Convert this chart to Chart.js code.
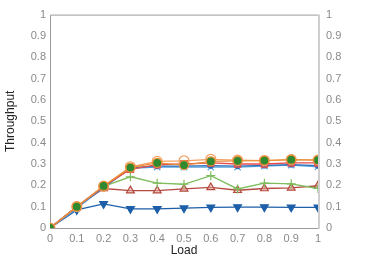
<!DOCTYPE html>
<html>
<head>
<meta charset="utf-8">
<script src="https://cdn.jsdelivr.net/npm/chart.js@4"></script>
<style>
  html, body { margin: 0; padding: 0; background: #fff; }
  #wrap { width: 374px; height: 262px; }
</style>
</head>
<body>
<div id="wrap"><canvas id="plot" width="374" height="262"></canvas></div>
<script>
const loads = [0, 0.1, 0.2, 0.3, 0.4, 0.5, 0.6, 0.7, 0.8, 0.9, 1];

const blueTri   = [0, 0.085, 0.113, 0.090, 0.090, 0.093, 0.097, 0.098, 0.098, 0.097, 0.097];
const lightStar = [0, 0.092, 0.190, 0.280, 0.285, 0.285, 0.285, 0.285, 0.290, 0.295, 0.287];
const greenPlus = [0, 0.100, 0.195, 0.240, 0.210, 0.205, 0.245, 0.183, 0.210, 0.207, 0.185];
const redTri    = [0, 0.100, 0.185, 0.175, 0.175, 0.183, 0.190, 0.177, 0.185, 0.188, 0.198];
const orangeCirc= [0, 0.100, 0.195, 0.287, 0.312, 0.315, 0.322, 0.318, 0.316, 0.320, 0.318];
const greenDot  = [0, 0.100, 0.197, 0.283, 0.305, 0.295, 0.312, 0.315, 0.316, 0.320, 0.318];
const redSquare = [0, 0.100, 0.195, 0.275, 0.297, 0.300, 0.305, 0.300, 0.300, 0.305, 0.305];
const blueDot   = [0, 0.100, 0.190, 0.283, 0.290, 0.290, 0.292, 0.290, 0.293, 0.297, 0.292];

const yTicks = [0, 0.1, 0.2, 0.3, 0.4, 0.5, 0.6, 0.7, 0.8, 0.9, 1];

const pts = arr => arr.map((v, i) => ({ x: loads[i], y: v }));

const series = (label, data, color, style, fill, radius) => ({
  label,
  data: pts(data),
  borderColor: color,
  backgroundColor: fill,
  pointBorderColor: color,
  pointBackgroundColor: fill,
  pointStyle: style,
  pointRadius: radius,
  pointBorderWidth: 1.2,
  borderWidth: 1.3,
  tension: 0
});

// frame around the plot area (top border + left line)
const frame = {
  id: 'frame',
  beforeDatasetsDraw(chart) {
    const { ctx, chartArea: a } = chart;
    ctx.save();
    ctx.strokeStyle = '#9a9a9a';
    ctx.lineWidth = 1;
    ctx.beginPath();
    ctx.moveTo(a.left + 0.5, a.bottom);
    ctx.lineTo(a.left + 0.5, a.top + 0.5);
    ctx.lineTo(a.right, a.top + 0.5);
    ctx.moveTo(a.left, a.bottom + 0.5);
    ctx.lineTo(a.right, a.bottom + 0.5);
    ctx.stroke();
    ctx.strokeStyle = '#cfcfcf';
    ctx.lineWidth = 2;
    ctx.beginPath();
    ctx.moveTo(a.right + 1, a.top);
    ctx.lineTo(a.right + 1, a.bottom + 1);
    ctx.stroke();
    ctx.restore();
  }
};

const tickFont = { family: 'Liberation Sans', size: 11 };
const fixedTicks = axis => { axis.ticks = yTicks.map(v => ({ value: v })); };
const plain = v => String(Math.round(v * 10) / 10);

new Chart(document.getElementById('plot'), {
  type: 'line',
  data: {
    datasets: [
      series('green dot', greenDot, '#e8903a', 'circle', '#2f8a2f', 4.5),
      series('red square', redSquare, '#e84a4a', 'rect', 'rgba(240,150,140,0.5)', 4.5),
      series('orange circle', orangeCirc, '#f5a060', 'circle', 'rgba(255,255,255,0)', 5),
      series('blue dot', blueDot, '#2a6fb8', 'circle', '#1d5fa8', 2.5),
      series('light star', lightStar, '#5aa5e0', 'crossRot', '#5aa5e0', 4.5),
      series('green plus', greenPlus, '#7dbd5c', 'cross', '#7dbd5c', 4.5),
      series('red triangle', redTri, '#b5493f', 'triangle', 'rgba(230,170,160,0.5)', 4.5),
      series('blue triangle', blueTri, '#1d5fa8', 'triangle', '#1d5fa8', 4.5)
    ].map(d => d.label === 'blue triangle' ? { ...d, pointRotation: 180 } : d)
  },
  options: {
    responsive: false,
    animation: false,
    layout: { padding: { top: 12, right: 0, bottom: 0, left: 0 } },
    plugins: { legend: { display: false }, tooltip: { enabled: false } },
    scales: {
      x: {
        type: 'linear',
        min: 0, max: 1,
        afterBuildTicks: axis => { axis.ticks = loads.map(v => ({ value: v })); },
        afterFit: axis => { axis.height = 34; },
        grid: { display: false, drawTicks: false },
        border: { display: false },
        ticks: { color: '#8a8a8a', font: tickFont, padding: 4, maxRotation: 0, callback: plain },
        title: { display: true, text: 'Load', color: '#222', font: { family: 'Liberation Sans', size: 12 }, padding: { top: 1 } }
      },
      y: {
        position: 'left',
        min: 0, max: 1,
        afterBuildTicks: fixedTicks,
        afterFit: axis => { axis.width = 50; },
        grid: { display: false, drawTicks: false },
        border: { display: false },
        ticks: { color: '#8a8a8a', font: tickFont, padding: 4, callback: plain },
        title: { display: true, text: 'Throughput', color: '#222', font: { family: 'Liberation Sans', size: 12 }, padding: { top: 3, bottom: 0 } }
      },
      y2: {
        position: 'right',
        min: 0, max: 1,
        afterBuildTicks: fixedTicks,
        afterFit: axis => { axis.width = 56; },
        grid: { display: false, drawTicks: false },
        border: { display: false },
        ticks: { color: '#8a8a8a', font: tickFont, padding: 8, callback: plain }
      }
    }
  },
  plugins: [frame]
});
</script>
</body>
</html>
